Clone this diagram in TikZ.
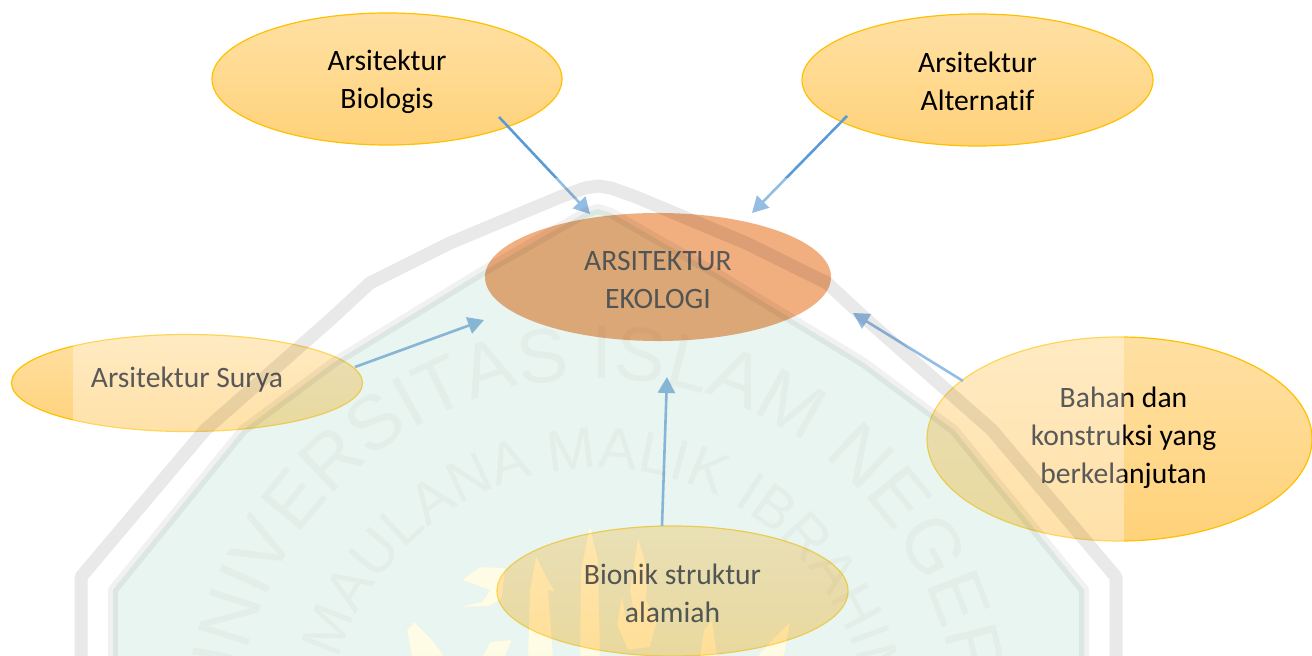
\documentclass[tikz,border=0pt]{standalone}
\usepackage{fontspec}
\setmainfont{Carlito}[Ligatures=NoCommon]
\newfontfamily\wmfont{Liberation Sans}
\usetikzlibrary{shapes.geometric,arrows.meta,decorations.text}
\definecolor{ellTop}{HTML}{FFE0A3}
\definecolor{ellBot}{HTML}{FFD27A}
\definecolor{ellLine}{HTML}{FFC000}
\definecolor{coreFill}{HTML}{EB843B}
\definecolor{linkBlue}{HTML}{5B9BD5}
\definecolor{wmGreen}{HTML}{E9F5F0}
\definecolor{wmBand}{HTML}{E9E9E9}
\definecolor{wmThin}{HTML}{F1F1F1}
\definecolor{wmText}{HTML}{FAF8F7}
\definecolor{wmGold}{HTML}{FFFCE6}
\newcommand{\lift}[2]{\raisebox{#1}[0pt][0pt]{\begin{tabular}{@{}c@{}}#2\end{tabular}}}
\tikzset{
  idea/.style={ellipse,draw=ellLine,line width=0.6pt,top color=ellTop,bottom color=ellBot,inner sep=0pt,
    font=\fontsize{14.8}{19}\selectfont,text=black},
  core/.style={ellipse,fill=coreFill,inner sep=0pt,font=\fontsize{14.8}{19}\selectfont,text=black},
  link/.style={draw=linkBlue,line width=1.3pt,-{Triangle[length=8pt,width=8.5pt]}},
  band/.style={draw=wmBand,line width=6.5pt,line join=round,line cap=butt},
  thinband/.style={draw=wmThin,line width=5pt,line join=round,line cap=butt}
}
\newcommand{\outerline}{(81,660) -- (81,577) -- (205,430) -- (330,320) -- (370,283) -- (450,243) -- (560,197) -- (585,188) -- (598,186) -- (611,188) -- (636,197) -- (746,243) -- (827,283) -- (867,320) -- (992,430) -- (1116,577) -- (1116,660)}
\newcommand{\innerline}{(113,660) -- (113,590) -- (243,430) -- (333,363) -- (480,273) -- (585,213) -- (598,209) -- (611,213) -- (716,273) -- (864,363) -- (954,430) -- (1084,590) -- (1084,660)}
\newcommand{\goldshapes}{
  (528,656) -- (530,590) -- (536,556) -- (547,578) -- (555,592) -- (548,590) -- (553,656) -- cycle
  (580,656) -- (581,570) -- (590,526) -- (598,560) -- (600,656) -- cycle
  (630,590) -- (638,538) -- (648,570) -- (646,600) -- (657,620) -- (650,647) -- (628,650) -- (617,625) -- (622,596) -- (626,620) -- (634,615) -- cycle
  (700,656) -- (704,630) -- (712,620) -- (717,656) -- cycle
  (758,656) -- (772,640) -- (790,622) -- (784,656) -- cycle
  (458,607) -- (482,602) -- (490,590) -- (462,580) -- (480,567) -- (505,568) -- (502,598) -- (490,606) -- cycle
  (407,630) -- (414,622) -- (432,640) -- (444,656) -- (412,656) -- cycle
  (483,656) -- (490,642) -- (512,640) -- (505,656) -- cycle
}
\begin{document}
\begin{tikzpicture}[x=0.5pt,y=-0.5pt]
\useasboundingbox (0,0) rectangle (1312,656);
\node[idea,minimum width=175pt,minimum height=66pt] (bio) at (387,79) {\lift{-5.3pt}{Arsitektur\\Biologis}};
\node[idea,minimum width=175.5pt,minimum height=66pt] (alt) at (977.5,80) {\lift{-5.5pt}{Arsitektur\\Alternatif}};
\node[core,minimum width=173pt,minimum height=64pt] (eko) at (658,277) {\lift{-6pt}{ARSITEKTUR\\EKOLOGI}};
\node[idea,minimum width=175.5pt,minimum height=48.5pt] (sur) at (187,383) {\lift{-2pt}{Arsitektur Surya}};
\node[idea,minimum width=192.5pt,minimum height=102pt] (bhn) at (1119.5,439) {\hspace*{4pt}\lift{-3pt}{Bahan dan\\konstruksi yang\\berkelanjutan}};
\node[idea,minimum width=175.5pt,minimum height=65pt] (bnk) at (672.5,591) {\lift{-6pt}{Bionik struktur\\alamiah}};
\coordinate (bioOut) at (499,117);
\coordinate (bioIn) at (590,214);
\coordinate (altOut) at (847,116);
\coordinate (altIn) at (752,213);
\coordinate (surOut) at (355,367);
\coordinate (surIn) at (484,320);
\coordinate (bnkOut) at (662,526);
\coordinate (bnkIn) at (667,377);
\coordinate (bhnOut) at (963,381);
\coordinate (bhnIn) at (853,313);
\draw[link] (bioOut) -- (bioIn);
\draw[link] (altOut) -- (altIn);
\draw[link] (surOut) -- (surIn);
\draw[link] (bnkOut) -- (bnkIn);
\draw[link] (bhnOut) -- (bhnIn);
% pale sheet of the watermark
\fill[white,opacity=0.35] (73,178) rectangle (1124,656);
% watermark
\begin{scope}[blend mode=multiply]
\fill[wmGreen,even odd rule] (113,660) -- (113,590) -- (243,430) -- (333,363) -- (480,273) -- (585,213) -- (598,209) -- (611,213) -- (716,273) -- (864,363) -- (954,430) -- (1084,590) -- (1084,660) -- cycle \goldshapes;
\fill[wmGold] \goldshapes;
\draw[band] \outerline;
\draw[thinband] \innerline;
\path[decorate,decoration={text along path,text align=center,text color=wmText,
  text={|\wmfont\fontsize{38}{38}\selectfont|UNIVERSITAS ISLAM NEGERI}}]
  plot[domain=215:-35,samples=70] ({598+362*cos(\x)},{740-362*sin(\x)});
\path[decorate,decoration={text along path,text align=center,text color=wmText,
  text={|\wmfont\fontsize{29}{29}\selectfont|MAULANA MALIK IBRAHIM}}]
  plot[domain=211:-39,samples=70] ({598+272*cos(\x)},{740-272*sin(\x)});
\end{scope}
\end{tikzpicture}
\end{document}
